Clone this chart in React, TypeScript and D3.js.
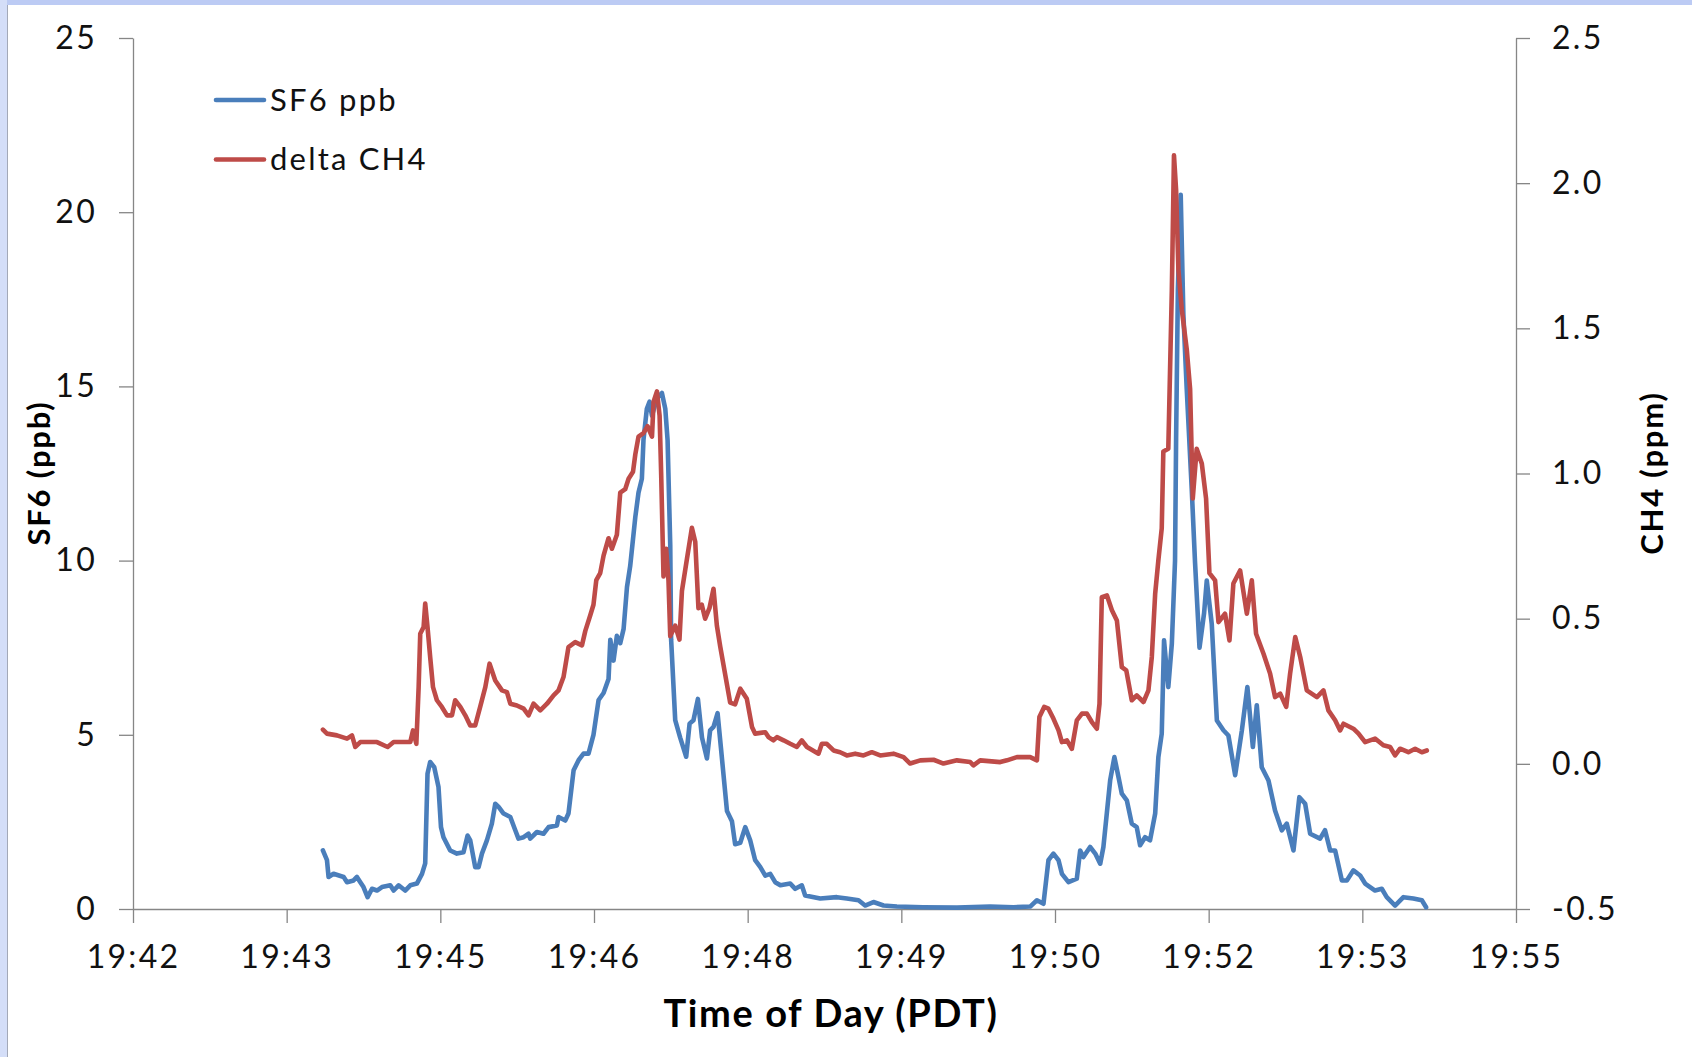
import React, { useEffect, useRef } from "react"
import * as d3 from "d3"

const timeLabels = ["19:42", "19:43", "19:45", "19:46", "19:48", "19:49", "19:50", "19:52", "19:53", "19:55"]
const sf6Ticks = [0, 5, 10, 15, 20, 25]
const ch4Ticks = [-0.5, 0, 0.5, 1, 1.5, 2, 2.5]
const seriesNames = ["SF6 ppb", "delta CH4"]

// seconds after 19:42:00
const sf6Time = [
  107.1, 109.4, 110.3, 113.1, 118.8, 120.7, 124.4, 126.3, 128.2, 130.0,
  132.3, 134.8, 137.6, 140.4, 145.1, 147.0, 149.8, 153.5, 156.4, 160.1,
  163.0, 164.8, 166.1, 167.6, 169.9, 172.3, 173.7, 175.1, 178.9, 182.7,
  186.4, 188.7, 190.2, 193.0, 194.9, 196.8, 199.6, 202.4, 204.3, 206.2,
  209.0, 212.8, 215.6, 217.4, 220.3, 223.1, 224.0, 227.8, 231.5, 234.4,
  239.1, 240.0, 243.8, 245.6, 248.5, 251.3, 254.1, 256.9, 259.7, 262.6,
  265.4, 268.2, 269.2, 271.0, 272.9, 274.8, 276.7, 278.6, 280.4, 283.3,
  285.1, 287.0, 287.9, 289.8, 291.3, 292.7, 295.5, 298.3, 300.2, 301.5,
  303.0, 303.5, 305.8, 308.6, 312.0, 313.9, 316.1, 318.6, 320.9, 323.7,
  325.5, 327.4, 329.7, 331.6, 335.0, 337.8, 339.6, 342.5, 345.3, 348.1,
  350.9, 353.8, 356.6, 359.4, 362.2, 365.1, 370.7, 373.5, 377.2, 379.1,
  387.6, 397.0, 402.6, 409.2, 412.9, 417.6, 423.3, 430.8, 445.6, 464.7,
  483.4, 496.6, 506.0, 509.8, 513.5, 516.3, 519.1, 522.0, 523.9, 527.6,
  532.3, 534.2, 536.0, 539.8, 542.7, 545.5, 547.3, 551.1, 553.5, 555.8,
  557.7, 560.5, 563.3, 566.1, 568.0, 570.8, 573.6, 576.5, 578.3, 580.2,
  581.5, 583.0, 583.9, 585.9, 587.7, 588.3, 589.3, 590.9, 592.4, 594.3,
  597.1, 599.0, 601.5, 604.1, 605.6, 608.4, 611.3, 615.0, 617.8, 621.6,
  625.4, 628.5, 631.6, 633.8, 636.6, 640.4, 644.1, 647.9, 650.7, 654.5,
  657.8, 661.1, 663.9, 669.5, 672.3, 675.2, 678.0, 681.8, 684.6, 688.3,
  692.1, 694.9, 700.5, 704.3, 707.1, 711.8, 716.5, 722.1, 726.9, 729.3,
]
const sf6Ppb = [
  1.68, 1.4, 0.92, 1.01, 0.92, 0.77, 0.82, 0.92, 0.77, 0.63,
  0.34, 0.58, 0.53, 0.63, 0.68, 0.53, 0.68, 0.53, 0.68, 0.73,
  1.01, 1.31, 3.88, 4.22, 4.07, 3.5, 2.35, 2.06, 1.68, 1.59,
  1.63, 2.11, 1.97, 1.2, 1.2, 1.59, 1.97, 2.45, 3.02, 2.93,
  2.74, 2.64, 2.26, 2.02, 2.06, 2.16, 2.02, 2.21, 2.16, 2.35,
  2.4, 2.64, 2.54, 2.74, 3.98, 4.27, 4.46, 4.46, 5.0, 6.0,
  6.2, 6.6, 7.73, 7.13, 7.84, 7.63, 8.04, 9.24, 9.84, 11.25,
  11.95, 12.35, 13.46, 14.36, 14.56, 14.16, 14.66, 14.81, 14.36, 13.46,
  10.45, 7.73, 5.42, 4.92, 4.37, 5.32, 5.42, 6.03, 4.92, 4.32,
  5.13, 5.23, 5.62, 4.62, 2.81, 2.52, 1.86, 1.9, 2.35, 1.97,
  1.4, 1.2, 0.96, 1.01, 0.77, 0.68, 0.73, 0.58, 0.68, 0.39,
  0.3, 0.34, 0.3, 0.25, 0.1, 0.2, 0.1, 0.07, 0.05, 0.04,
  0.07, 0.05, 0.07, 0.25, 0.15, 1.4, 1.59, 1.4, 1.01, 0.77,
  0.87, 1.68, 1.49, 1.78, 1.59, 1.3, 1.78, 3.69, 4.36, 3.79,
  3.31, 3.12, 2.45, 2.35, 1.83, 2.06, 1.97, 2.74, 4.36, 5.03,
  7.71, 6.85, 6.37, 7.62, 10.0, 13.5, 17.78, 20.5, 17.07, 14.92,
  12.07, 9.93, 7.5, 8.5, 9.43, 8.19, 5.41, 5.13, 4.98, 3.84,
  5.13, 6.37, 4.65, 5.85, 4.07, 3.69, 2.83, 2.26, 2.45, 1.68,
  3.21, 3.02, 2.16, 2.02, 2.26, 1.68, 1.68, 0.82, 0.82, 1.11,
  0.96, 0.73, 0.53, 0.58, 0.34, 0.1, 0.34, 0.3, 0.25, 0.05,
]

const ch4Time = [
  107.1, 109.4, 115.0, 120.7, 123.5, 125.4, 128.2, 137.6, 143.6, 147.0,
  156.4, 157.9, 159.8, 161.1, 162.0, 163.9, 164.8, 166.1, 167.6, 169.2,
  171.4, 174.2, 177.1, 179.9, 181.7, 184.6, 187.4, 190.2, 193.0, 195.8,
  198.7, 201.1, 204.3, 208.1, 210.9, 212.8, 216.5, 220.3, 223.1, 225.9,
  229.7, 233.5, 237.2, 240.0, 242.8, 245.6, 249.4, 253.2, 255.1, 257.9,
  259.7, 261.3, 263.5, 265.4, 268.2, 270.1, 272.9, 274.8, 277.6, 279.5,
  282.0, 283.3, 285.1, 287.9, 290.2, 292.7, 293.6, 295.5, 297.0, 297.9,
  299.2, 300.7, 302.0, 303.0, 305.8, 308.2, 309.6, 312.4, 315.2, 317.1,
  318.9, 320.8, 322.7, 325.1, 327.4, 329.3, 331.2, 334.0, 336.8, 339.6,
  342.5, 346.2, 349.1, 350.9, 356.6, 358.4, 361.2, 363.2, 366.9, 370.7,
  374.4, 377.2, 380.1, 386.6, 388.5, 391.3, 395.1, 398.8, 402.6, 407.3,
  412.0, 416.7, 421.4, 428.9, 434.6, 438.3, 444.0, 451.5, 457.1, 464.7,
  472.2, 474.0, 477.8, 489.1, 492.9, 498.5, 506.0, 509.8, 511.2, 513.9,
  516.3, 519.1, 522.0, 523.9, 526.7, 529.5, 532.3, 535.2, 538.0, 540.8,
  543.6, 545.1, 546.4, 549.3, 552.1, 554.9, 557.7, 560.2, 563.3, 566.1,
  569.9, 572.7, 574.6, 576.5, 578.3, 580.2, 581.1, 583.9, 585.9, 587.1,
  588.3, 589.6, 591.5, 594.3, 596.2, 597.7, 599.9, 602.8, 605.2, 607.1,
  610.3, 612.2, 615.9, 618.4, 620.6, 624.4, 628.2, 631.0, 633.4, 637.6,
  641.3, 644.1, 647.0, 650.4, 652.6, 655.5, 658.3, 662.0, 667.7, 671.4,
  674.2, 678.0, 680.8, 682.7, 688.3, 691.2, 694.9, 700.5, 705.2, 709.0,
  711.8, 714.6, 719.3, 723.1, 726.9, 729.7,
]
const ch4Ppm = [
  0.118, 0.104, 0.098, 0.087, 0.098, 0.058, 0.075, 0.075, 0.058, 0.075,
  0.075, 0.115, 0.069, 0.264, 0.448, 0.471, 0.552, 0.471, 0.368, 0.264,
  0.219, 0.196, 0.167, 0.167, 0.219, 0.196, 0.167, 0.132, 0.132, 0.196,
  0.264, 0.345, 0.287, 0.253, 0.247, 0.207, 0.201, 0.19, 0.167, 0.207,
  0.184, 0.207, 0.236, 0.253, 0.299, 0.402, 0.419, 0.408, 0.458, 0.512,
  0.548, 0.633, 0.657, 0.717, 0.777, 0.741, 0.789, 0.934, 0.946, 0.982,
  1.006, 1.066, 1.127, 1.139, 1.163, 1.127, 1.247, 1.283, 1.199, 0.994,
  0.645, 0.741, 0.633, 0.44, 0.476, 0.428, 0.596, 0.705, 0.813, 0.765,
  0.536, 0.548, 0.5, 0.536, 0.603, 0.476, 0.404, 0.307, 0.211, 0.205,
  0.259, 0.224, 0.127, 0.104, 0.109, 0.092, 0.081, 0.092, 0.081, 0.069,
  0.058, 0.081, 0.058, 0.035, 0.069, 0.069, 0.046, 0.04, 0.029, 0.035,
  0.029, 0.04, 0.029, 0.035, 0.023, 0.001, 0.012, 0.014, 0.001, 0.012,
  0.006, -0.005, 0.012, 0.006, 0.012, 0.023, 0.023, 0.012, 0.161, 0.196,
  0.19, 0.156, 0.115, 0.075, 0.081, 0.052, 0.15, 0.173, 0.173, 0.144,
  0.121, 0.207, 0.574, 0.58, 0.529, 0.494, 0.333, 0.322, 0.219, 0.236,
  0.213, 0.253, 0.368, 0.586, 0.701, 0.811, 1.076, 1.085, 1.633, 2.096,
  1.976, 1.702, 1.565, 1.428, 1.291, 0.914, 1.085, 1.034, 0.914, 0.657,
  0.632, 0.488, 0.517, 0.425, 0.621, 0.666, 0.517, 0.632, 0.448, 0.379,
  0.311, 0.23, 0.242, 0.196, 0.311, 0.437, 0.368, 0.253, 0.23, 0.253,
  0.184, 0.15, 0.115, 0.138, 0.121, 0.104, 0.075, 0.087, 0.064, 0.058,
  0.029, 0.052, 0.04, 0.052, 0.04, 0.046,
]

const width = 1692
const height = 1057
const font = "Lato, 'Open Sans', sans-serif"
const axisColor = "#868686"
const blue = "#4a7ebb"
const red = "#be4b48"

export default function App() {
  const ref = useRef<SVGSVGElement>(null)

  useEffect(() => {
    const svg = d3.select(ref.current)
    svg.selectAll("*").remove()

    const margin = { top: 38, right: 176, bottom: 148, left: 133 }

    const x = d3.scaleLinear().domain([0, 780]).range([margin.left, width - margin.right])
    const ySf6 = d3.scaleLinear().domain([0, 25]).range([height - margin.bottom, margin.top])
    const yCh4 = d3.scaleLinear().domain([-0.5, 2.5]).range([height - margin.bottom, margin.top])

    // window frame of the screenshot
    svg.append("rect").attr("width", width).attr("height", height).attr("fill", "#fff")
    svg.append("rect").attr("width", width).attr("height", 5).attr("fill", "#bccbf4")
    svg.append("rect").attr("width", 7).attr("height", height).attr("fill", "#d4def8")
    svg.append("line").attr("x1", 7.5).attr("x2", 7.5).attr("y1", 5).attr("y2", height)
      .attr("stroke", "#a3a9b8").attr("stroke-width", 1)

    const styleAxis = (g: any) => {
      g.select(".domain").attr("stroke", axisColor).attr("stroke-width", 1.3)
      g.selectAll(".tick line").attr("stroke", axisColor).attr("stroke-width", 1.3)
      g.selectAll(".tick text")
        .attr("fill", "#111")
        .attr("font-size", 32)
        .attr("font-family", font)
        .attr("letter-spacing", 2.3)
    }

    const xTicks = timeLabels.map((_, i) => (i * 780) / (timeLabels.length - 1))

    svg.append("g")
      .attr("transform", `translate(0,${height - margin.bottom})`)
      .call(
        d3.axisBottom(x)
          .tickValues(xTicks)
          .tickFormat((d, i) => timeLabels[i])
          .tickSize(14)
          .tickSizeOuter(0)
          .tickPadding(22)
      )
      .call(styleAxis)

    svg.append("g")
      .attr("transform", `translate(${margin.left},0)`)
      .call(d3.axisLeft(ySf6).tickValues(sf6Ticks).tickSize(14).tickSizeOuter(0).tickPadding(22))
      .call(styleAxis)

    svg.append("g")
      .attr("transform", `translate(${width - margin.right},0)`)
      .call(
        d3.axisRight(yCh4)
          .tickValues(ch4Ticks)
          .tickFormat(d => (+d).toFixed(1))
          .tickSize(14)
          .tickSizeOuter(0)
          .tickPadding(22)
      )
      .call(styleAxis)

    // axis titles
    svg.append("text")
      .attr("x", 831).attr("y", 1027)
      .attr("text-anchor", "middle")
      .attr("font-family", font).attr("font-weight", "bold").attr("font-size", 38)
      .attr("letter-spacing", 1.6)
      .text("Time of Day (PDT)")

    svg.append("text")
      .attr("transform", "translate(50,473) rotate(-90)")
      .attr("text-anchor", "middle")
      .attr("font-family", font).attr("font-weight", "bold").attr("font-size", 31)
      .attr("letter-spacing", 1.8)
      .text("SF6 (ppb)")

    svg.append("text")
      .attr("transform", "translate(1663,473) rotate(-90)")
      .attr("text-anchor", "middle")
      .attr("font-family", font).attr("font-weight", "bold").attr("font-size", 31)
      .attr("letter-spacing", 1.8)
      .text("CH4 (ppm)")

    const sf6Data = d3.zip(sf6Time, sf6Ppb)
    const ch4Data = d3.zip(ch4Time, ch4Ppm)

    const sf6Line = d3.line<number[]>().x(d => x(d[0])).y(d => ySf6(d[1]))
    const ch4Line = d3.line<number[]>().x(d => x(d[0])).y(d => yCh4(d[1]))

    svg.append("path")
      .datum(sf6Data)
      .attr("d", sf6Line)
      .attr("fill", "none")
      .attr("stroke", blue)
      .attr("stroke-width", 4.6)
      .attr("stroke-linejoin", "round")
      .attr("stroke-linecap", "round")

    svg.append("path")
      .datum(ch4Data)
      .attr("d", ch4Line)
      .attr("fill", "none")
      .attr("stroke", red)
      .attr("stroke-width", 4.6)
      .attr("stroke-linejoin", "round")
      .attr("stroke-linecap", "round")

    // legend
    const legend = svg.append("g").attr("transform", "translate(216,100)")
    const items = legend.selectAll("g")
      .data(seriesNames)
      .join("g")
      .attr("transform", (d, i) => `translate(0,${i * 59.5})`)

    items.append("line")
      .attr("x1", 0).attr("x2", 48)
      .attr("stroke", (d, i) => (i === 0 ? blue : red))
      .attr("stroke-width", 4.6)
      .attr("stroke-linecap", "round")

    items.append("text")
      .attr("x", 54)
      .attr("dy", "0.35em")
      .attr("font-family", font)
      .attr("font-size", 31)
      .attr("letter-spacing", 2.2)
      .attr("fill", "#111")
      .text(d => d)
  }, [])

  return (
    <svg
      ref={ref}
      width={width}
      height={height}
      style={{ position: "absolute", left: 0, top: 0, display: "block" }}
    />
  )
}
